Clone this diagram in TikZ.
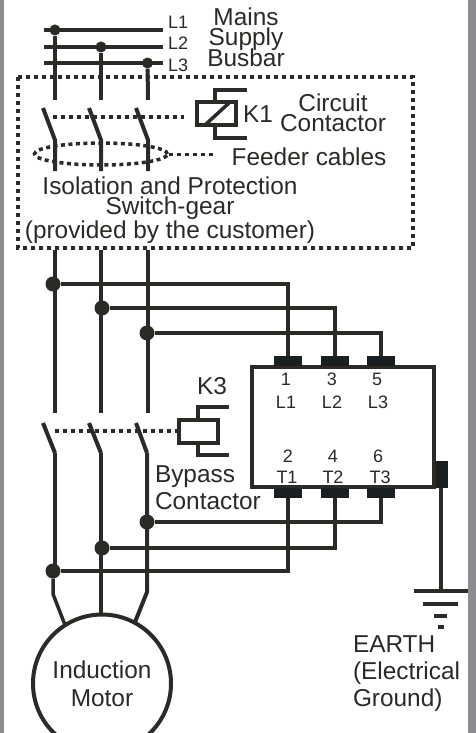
\documentclass[tikz,border=0pt]{standalone}
\usepackage{fontspec}
\setmainfont{Liberation Sans}
\usepackage{xcolor}
\usetikzlibrary{
    shapes.geometric,
    positioning,
    calc
}
\definecolor{ink}{HTML}{2B2A26}
\definecolor{padink}{HTML}{1A2022}
\definecolor{frameink}{HTML}{8A8B90}
\tikzset{%
    % Specifications for style of nodes:
    caption/.style = {
        inner sep=0pt, outer sep=0pt, text=ink, align=center,
        font=\fontsize{24.4}{20}\selectfont
    },
    small/.style = {caption, font=\fontsize{18}{18}\selectfont},
    junction/.style = {circle, fill=ink, minimum size=15pt, inner sep=0pt},
    busdot/.style = {junction, minimum size=11pt},
    terminal/.style = {rectangle, fill=padink, minimum width=28pt, minimum height=10.5pt, inner sep=0pt},
    coil/.style = {rectangle, draw=ink, line width=4pt, minimum width=39pt, minimum height=23pt, inner sep=0pt},
    wire/.style = {draw=ink, line width=3.5pt},
    bus/.style = {draw=ink, line width=4pt},
    link/.style = {draw=ink, line width=4pt, dash pattern=on 4pt off 4pt},
    ring/.style = {draw=ink, line width=3.5pt, dash pattern=on 4pt off 3.5pt}
}

\begin{document}
\begin{tikzpicture}[x=1pt, y=-1pt]
    \useasboundingbox (0,0) rectangle (476,733);
    \fill[frameink] (0,0) rectangle (476,733);
    \fill[white] (4,0) rectangle (468,733);

    % busbar
    \coordinate (b1w) at (44,30);
    \coordinate (b1e) at (163,30);
    \coordinate (b2w) at (44,47);
    \coordinate (b2e) at (163,47);
    \coordinate (b3w) at (44,63);
    \coordinate (b3e) at (163,63);
    \draw[bus] (b1w) -- (b1e);
    \draw[bus] (b2w) -- (b2e);
    \draw[bus] (b3w) -- (b3e);
    \node[busdot] (bd1) at (55,30) {};
    \node[busdot] (bd2) at (101,47) {};
    \node[busdot] (bd3) at (147.5,63) {};
    \node[small, anchor=west] (l1) at (168,22) {L1};
    \node[small, anchor=west] (l2) at (168,43) {L2};
    \node[small, anchor=west] (l3) at (168,65) {L3};
    \node[caption] (mains) at (246,16.5) {Mains};
    \node[caption] (supply) at (246,39) {Supply};
    \node[caption] (busbar) at (246,58) {Busbar};

    % customer switch-gear
    \coordinate (q1a) at (55,100);
    \coordinate (q2a) at (101,100);
    \coordinate (q3a) at (148,100);
    \coordinate (q1t) at (43,108);
    \coordinate (q2t) at (89,108);
    \coordinate (q3t) at (136,108);
    \coordinate (q1b) at (55,140);
    \coordinate (q2b) at (101,140);
    \coordinate (q3b) at (148,140);
    \coordinate (q1c) at (55,171);
    \coordinate (q2c) at (101,171);
    \coordinate (q3c) at (148,171);
    \draw[bus] (bd1) -- (q1a);
    \draw[bus] (bd2) -- (q2a);
    \draw[bus] (bd3) -- (q3a);
    \draw[bus] (q1t) -- (q1b) -- (q1c);
    \draw[bus] (q2t) -- (q2b) -- (q2c);
    \draw[bus] (q3t) -- (q3b) -- (q3c);

    \node[coil] (k1) at (216.5,113.5) {};
    \coordinate (k1n) at (215,102);
    \coordinate (k1s) at (215,126);
    \coordinate (k1ne) at (247,90);
    \coordinate (k1se) at (247,138);
    \coordinate (k1d1) at (205,125);
    \coordinate (k1d2) at (229,103);
    \draw[bus] (k1n) |- (k1ne);
    \draw[bus] (k1s) |- (k1se);
    \draw[wire] (k1d1) -- (k1d2);
    \coordinate (k1link) at (53,117);
    \coordinate (k1stop) at (184,117);
    \draw[link] (k1link) -- (k1stop);
    \node[caption, anchor=west] (k1t) at (243,114) {K1};
    \node[caption] (circuit) at (333,113) {Circuit\\Contactor};

    \node[ring, ellipse, minimum width=133pt, minimum height=22pt, inner sep=0pt] (feeders) at (101,154) {};
    \coordinate (ringend) at (216,154);
    \draw[link, line width=3pt] (feeders.east) -- (ringend);
    \node[caption] (feedert) at (309,157) {Feeder cables};
    \node[caption] (isolation) at (170,210) {Isolation and Protection\\Switch-gear\\(provided by the customer)};
    \coordinate (boxa) at (18,77);
    \coordinate (boxb) at (413,248);
    \draw[link] (boxa) rectangle (boxb);

    % main feed to the starter and the bypass
    \coordinate (m1t) at (55,250);
    \coordinate (m2t) at (101,250);
    \coordinate (m3t) at (148,250);
    \coordinate (m1a) at (55,413);
    \coordinate (m2a) at (101,413);
    \coordinate (m3a) at (148,413);
    \draw[bus] (m1t) -- (m1a);
    \draw[bus] (m2t) -- (m2a);
    \draw[bus] (m3t) -- (m3a);
    \node[junction] (in1) at (53,284) {};
    \node[junction] (in2) at (102,308) {};
    \node[junction] (in3) at (147,333) {};

    % soft starter
    \node[rectangle, draw=ink, line width=4pt, minimum width=182pt, minimum height=120pt, inner sep=0pt] (starter) at (343,427) {};
    \node[terminal] (pl1) at (288,361) {};
    \node[terminal] (pl2) at (335,361) {};
    \node[terminal] (pl3) at (381,361) {};
    \node[terminal] (pt1) at (288,493) {};
    \node[terminal] (pt2) at (335,493) {};
    \node[terminal] (pt3) at (381,493) {};
    \node[terminal, minimum width=12pt, minimum height=27pt] (pe) at (442,474.5) {};
    \draw[wire] (in1) -| (pl1.north);
    \draw[wire] (in2) -| (pl2.north);
    \draw[wire] (in3) -| (pl3.north);
    \node[small] (n1) at (286,379.5) {1};
    \node[small] (n3) at (332,379.5) {3};
    \node[small] (n5) at (377,379.5) {5};
    \node[small] (tl1) at (286,402) {L1};
    \node[small] (tl2) at (332,402) {L2};
    \node[small] (tl3) at (378,402) {L3};
    \node[small] (n2) at (288,456) {2};
    \node[small] (n4) at (333,456) {4};
    \node[small] (n6) at (378,456) {6};
    \node[small] (tt1) at (287,477) {T1};
    \node[small] (tt2) at (333,477) {T2};
    \node[small] (tt3) at (380,477) {T3};

    % bypass contactor
    \coordinate (k31) at (43,423);
    \coordinate (k32) at (89,423);
    \coordinate (k33) at (136,423);
    \coordinate (k31b) at (55,453);
    \coordinate (k32b) at (101,453);
    \coordinate (k33b) at (147,453);
    \coordinate (k31c) at (55,566);
    \node[coil] (k3) at (198,431) {};
    \coordinate (k3n) at (198,419);
    \coordinate (k3s) at (198,443);
    \coordinate (k3ne) at (229,407);
    \coordinate (k3se) at (229,455);
    \draw[bus] (k3n) |- (k3ne);
    \draw[bus] (k3s) |- (k3se);
    \coordinate (k3link) at (55,431);
    \draw[link] (k3link) -- (k3.west);
    \node[caption] (k3t) at (212,386) {K3};
    \node[caption, anchor=west, font=\fontsize{24.4}{27}\selectfont, align=left] (bypass) at (155,487.5) {Bypass\\Contactor};

    % motor
    \node[circle, draw=ink, line width=4pt, minimum size=138pt, caption, font=\fontsize{24.4}{28}\selectfont] (motor) at (102,683.5) {Induction\\Motor};
    \node[junction] (out3) at (147,522) {};
    \node[junction] (out2) at (102,548) {};
    \node[junction] (out1) at (53,571) {};
    \draw[wire] (out3) -| (pt3.south);
    \draw[wire] (out2) -| (pt2.south);
    \draw[wire] (out1) -| (pt1.south);
    \coordinate (leg1) at (53,594);
    \coordinate (leg3) at (147,592);
    \coordinate (hub1) at (65,625);
    \coordinate (hub2) at (101,615);
    \coordinate (hub3) at (135,622);
    \draw[bus] (k31b) -- (k31c);
    \draw[wire] (out1) -- (leg1) -- (hub1);
    \draw[bus] (k32b) -- (hub2);
    \draw[bus] (k33b) -- (leg3) -- (hub3);
    \draw[bus] (k31) -- (k31b);
    \draw[bus] (k32) -- (k32b);
    \draw[bus] (k33) -- (k33b);

    % earth
    \coordinate (e1w) at (414,591);
    \coordinate (e1e) at (468,591);
    \coordinate (e1m) at (441,591);
    \coordinate (e2w) at (423,604);
    \coordinate (e2e) at (458,604);
    \coordinate (e3w) at (434,616);
    \coordinate (e3e) at (447,616);
    \coordinate (e4w) at (438,627);
    \coordinate (e4e) at (444,627);
    \draw[wire] (pe.south -| e1m) -- (e1m);
    \draw[bus] (e1w) -- (e1e);
    \draw[bus] (e2w) -- (e2e);
    \draw[bus] (e3w) -- (e3e);
    \draw[bus] (e4w) -- (e4e);
    \node[caption, anchor=north west, align=left, font=\fontsize{24.4}{27}\selectfont] (earth) at (353,636) {EARTH\\(Electrical\\Ground)};
\end{tikzpicture}
\end{document}
